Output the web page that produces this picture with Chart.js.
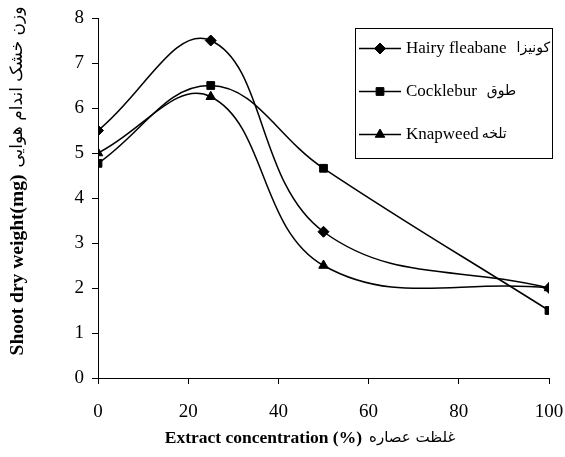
<!DOCTYPE html>
<html>
<head>
<meta charset="utf-8">
<script src="https://cdn.jsdelivr.net/npm/chart.js@4/dist/chart.umd.min.js"></script>
<style>
html, body { margin: 0; padding: 0; background: #fff; }
canvas { display: block; }
</style>
</head>
<body>
<canvas id="chart" width="565" height="457"></canvas>
<script>
// extract concentration (%) and shoot dry weight (mg)
var concentrations = [0, 25, 50, 100];
var hairyFleabane = [5.5, 7.5, 3.25, 2.0];
var cocklebur = [4.77, 6.5, 4.66, 1.5];
var knapweed = [5.0, 6.25, 2.5, 2.0];

var seriesNames = ['Hairy fleabane', 'Cocklebur', 'Knapweed'];
var seriesNamesFa = ['کونیزا', 'طوق', 'تلخه'];
var seriesMarkers = ['rectRot', 'rect', 'triangle'];
var markerRadius = [5.5, 5.5, 5.5];

var xTicks = [0, 20, 40, 60, 80, 100];
var yTicks = [0, 1, 2, 3, 4, 5, 6, 7, 8];
var xTitle = ['Extract concentration (%)', 'غلظت عصاره'];
var yTitle = ['Shoot dry weight(mg)', 'وزن خشک اندام هوایی'];

var SERIF = '"Liberation Serif", "Times New Roman", serif';
var ARABIC = '"DejaVu Sans", sans-serif';

function toPoints(values) {
  return values.map(function(v, i) {
    return {x: concentrations[i], y: v};
  });
}

var seriesValues = [hairyFleabane, cocklebur, knapweed];
var datasets = seriesValues.map(function(values, i) {
  return {
    label: seriesNames[i],
    data: toPoints(values),
    borderColor: '#000',
    backgroundColor: '#000',
    borderWidth: 1.5,
    pointStyle: seriesMarkers[i],
    pointRadius: markerRadius[i],
    pointBorderWidth: 1,
    tension: 0.4,
    fill: false
  };
});

function axisStyle() {
  return {
    grid: {display: true, drawOnChartArea: false, drawTicks: true, tickLength: 6, tickColor: '#000', color: '#000'},
    border: {display: true, color: '#000', width: 1}
  };
}

// legend box inside the plot, drawn by hand to get line + marker + two-language labels
var legendPlugin = {
  id: 'boxLegend',
  afterDraw: function(chart) {
    var ctx = chart.ctx;
    var box = {left: 355.5, top: 28.5, right: 552.5, bottom: 158.5};
    var faGap = [10, 10, 3];
    ctx.save();
    ctx.strokeStyle = '#000';
    ctx.lineWidth = 1;
    ctx.strokeRect(box.left, box.top, box.right - box.left, box.bottom - box.top);

    seriesNames.forEach(function(name, i) {
      var y = box.top + 20 + i * 43;
      ctx.beginPath();
      ctx.lineWidth = 1.5;
      ctx.moveTo(359, y);
      ctx.lineTo(401, y);
      ctx.stroke();
      ctx.fillStyle = '#000';
      ctx.lineWidth = 1;
      Chart.helpers.drawPoint(ctx, {pointStyle: seriesMarkers[i], radius: markerRadius[i], rotation: 0, borderWidth: 1}, 380, y);

      ctx.textBaseline = 'middle';
      ctx.textAlign = 'left';
      ctx.font = '17px ' + SERIF;
      ctx.fillText(name, 406, y);
      var w = ctx.measureText(name).width;
      ctx.font = '14px ' + ARABIC;
      ctx.fillText(seriesNamesFa[i], 406 + w + faGap[i], y);
    });
    ctx.restore();
  }
};

// axis titles: bold English followed by regular Persian
function drawTitle(ctx, parts, cx, cy, rotate, enSize, faSize) {
  ctx.save();
  ctx.translate(cx, cy);
  if (rotate) {
    ctx.rotate(-Math.PI / 2);
  }
  ctx.fillStyle = '#000';
  ctx.textBaseline = 'middle';
  ctx.textAlign = 'left';
  ctx.font = 'bold ' + enSize + 'px ' + SERIF;
  var w1 = ctx.measureText(parts[0]).width;
  ctx.font = faSize + 'px ' + ARABIC;
  var w2 = ctx.measureText(parts[1]).width;
  var gap = 7;
  var x0 = -(w1 + gap + w2) / 2;
  ctx.font = 'bold ' + enSize + 'px ' + SERIF;
  ctx.fillText(parts[0], x0, 0);
  ctx.font = faSize + 'px ' + ARABIC;
  ctx.fillText(parts[1], x0 + w1 + gap, 0);
  ctx.restore();
}

var titlePlugin = {
  id: 'axisTitles',
  afterDraw: function(chart) {
    drawTitle(chart.ctx, xTitle, 310, 438, false, 17.5, 15);
    drawTitle(chart.ctx, yTitle, 18, 181, true, 19.5, 17);
  }
};

var xAxis = axisStyle();
xAxis.type = 'linear';
xAxis.min = 0;
xAxis.max = 100;
xAxis.afterBuildTicks = function(scale) {
  scale.ticks = xTicks.map(function(v) { return {value: v}; });
};
xAxis.afterFit = function(scale) {
  scale.height = 41;
  scale.paddingLeft = 0;
  scale.paddingRight = 0;
};
xAxis.ticks = {color: '#000', font: {family: SERIF, size: 19}, padding: 17, maxRotation: 0};

var yAxis = axisStyle();
yAxis.type = 'linear';
yAxis.min = 0;
yAxis.max = 8;
yAxis.afterBuildTicks = function(scale) {
  scale.ticks = yTicks.map(function(v) { return {value: v}; });
};
yAxis.afterFit = function(scale) {
  scale.width = 60;
  scale.paddingTop = 0;
  scale.paddingBottom = 0;
};
yAxis.ticks = {color: '#000', font: {family: SERIF, size: 19}, padding: 8};

var chart = new Chart(document.getElementById('chart'), {
  type: 'line',
  data: {datasets: datasets},
  options: {
    responsive: false,
    devicePixelRatio: 1,
    animation: false,
    layout: {padding: {left: 38, right: 16, top: 18, bottom: 38}},
    plugins: {
      legend: {display: false},
      tooltip: {enabled: false}
    },
    scales: {x: xAxis, y: yAxis}
  },
  plugins: [legendPlugin, titlePlugin]
});
</script>
</body>
</html>
